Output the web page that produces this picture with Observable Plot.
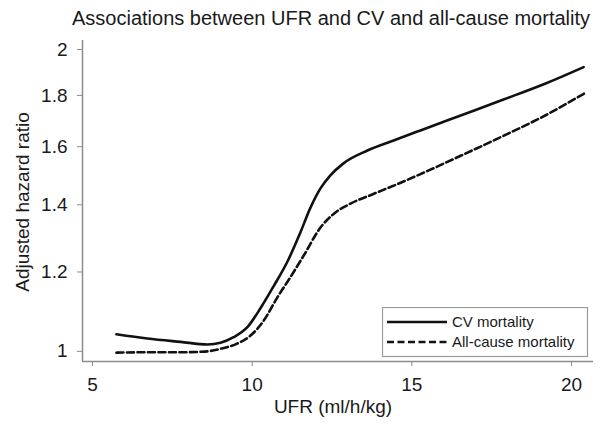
<!DOCTYPE html>
<html><head><meta charset="utf-8">
<script src="https://cdn.jsdelivr.net/npm/d3@7"></script>
<script src="https://cdn.jsdelivr.net/npm/@observablehq/plot@0.6"></script>
<style>
body{margin:0;background:#fff;}
#wrap{position:relative;width:600px;height:425px;font-family:"Liberation Sans",Arial,sans-serif;color:#1a1a1a;overflow:hidden;}
#chart{position:absolute;left:0;top:0;}
.t{position:absolute;white-space:nowrap;line-height:1;transform:translate(-50%,-50%);}
#legend{position:absolute;left:382px;top:307px;}
</style></head><body>
<div id="wrap">
  <div id="chart"></div>
  <div class="t" id="title" style="left:331px;top:18px;font-size:20px"></div>
  <div class="t" id="xlabel" style="left:333px;top:406px;font-size:19px"></div>
  <div class="t" id="ylabel" style="left:22px;top:202px;font-size:19px;transform:translate(-50%,-50%) rotate(-90deg)"></div>
  <svg id="legend" width="207" height="51"></svg>
</div>
<script>
const titleText = "Associations between UFR and CV and all-cause mortality";
const xLabel = "UFR (ml/h/kg)";
const yLabel = "Adjusted hazard ratio";
const seriesNames = ["CV mortality", "All-cause mortality"];
const xTicks = [5, 10, 15, 20];
const yTicks = [1, 1.2, 1.4, 1.6, 1.8, 2];

const cvUFR = [5.75, 6.72, 7.76, 8.60, 9.01, 9.42, 9.85, 10.26, 10.67, 11.11, 11.51, 11.83, 12.14, 12.45, 12.86, 13.61, 14.43, 15.27, 16.53, 17.87, 19.19, 20.38];
const cvHR  = [1.040, 1.030, 1.022, 1.016, 1.020, 1.033, 1.057, 1.104, 1.161, 1.230, 1.314, 1.392, 1.454, 1.498, 1.540, 1.586, 1.623, 1.661, 1.719, 1.783, 1.850, 1.921];

const allUFR = [5.75, 6.82, 7.76, 8.38, 8.70, 9.01, 9.53, 9.95, 10.37, 10.79, 11.20, 11.62, 12.14, 12.56, 13.08, 13.81, 14.54, 15.22, 16.53, 17.88, 19.19, 20.39];
const allHR  = [0.997, 0.998, 0.998, 0.999, 1.001, 1.006, 1.018, 1.037, 1.074, 1.132, 1.186, 1.247, 1.329, 1.372, 1.404, 1.436, 1.468, 1.500, 1.567, 1.641, 1.720, 1.807];

const cvData = cvUFR.map((x, i) => ({x, y: cvHR[i]}));
const allData = allUFR.map((x, i) => ({x, y: allHR[i]}));

const xDomain = [4.687, 20.69];
const yDomain = [0.977, 2.042];
const axisGray = "#8c8c8c";

const chart = Plot.plot({
  width: 600,
  height: 425,
  marginLeft: 82,
  marginRight: 7,
  marginTop: 40,
  marginBottom: 64,
  style: {fontFamily: "'Liberation Sans', Arial, sans-serif", fontSize: "19px", background: "#fff", color: "#1a1a1a"},
  x: {domain: xDomain},
  y: {type: "log", domain: yDomain},
  marks: [
    Plot.ruleX([xDomain[0]], {stroke: axisGray, strokeWidth: 1.5}),
    Plot.ruleY([yDomain[0]], {stroke: axisGray, strokeWidth: 1.5}),
    Plot.axisX(xTicks, {tickSize: 5, tickPadding: 11, stroke: axisGray, fill: "#1a1a1a", label: null, tickFormat: d => String(d)}),
    Plot.axisY(yTicks, {tickSize: 5, tickPadding: 10, stroke: axisGray, fill: "#1a1a1a", label: null, tickFormat: d => String(d)}),
    Plot.line(cvData, {x: "x", y: "y", curve: "monotone-x", stroke: "#111", strokeWidth: 2.6}),
    Plot.line(allData, {x: "x", y: "y", curve: "monotone-x", stroke: "#111", strokeWidth: 2.6, strokeDasharray: "7,3.5"})
  ]
});
document.getElementById("chart").appendChild(chart);
document.getElementById("title").textContent = titleText;
document.getElementById("xlabel").textContent = xLabel;
document.getElementById("ylabel").textContent = yLabel;

// legend
const lg = d3.select("#legend");
lg.append("rect").attr("x", 0.5).attr("y", 0.5).attr("width", 205).attr("height", 49)
  .attr("fill", "#fff").attr("stroke", "#999").attr("stroke-width", 1.2);
const dashes = [null, "7,3.5"];
seriesNames.forEach((name, i) => {
  const yy = 15 + i * 20;
  lg.append("line").attr("x1", 5).attr("x2", 65).attr("y1", yy).attr("y2", yy)
    .attr("stroke", "#111").attr("stroke-width", 2.4).attr("stroke-dasharray", dashes[i]);
  lg.append("text").attr("x", 70).attr("y", yy).attr("dy", "0.35em")
    .attr("font-family", "'Liberation Sans', Arial, sans-serif").attr("font-size", 15)
    .attr("fill", "#1a1a1a").text(name);
});
</script>
</body></html>
